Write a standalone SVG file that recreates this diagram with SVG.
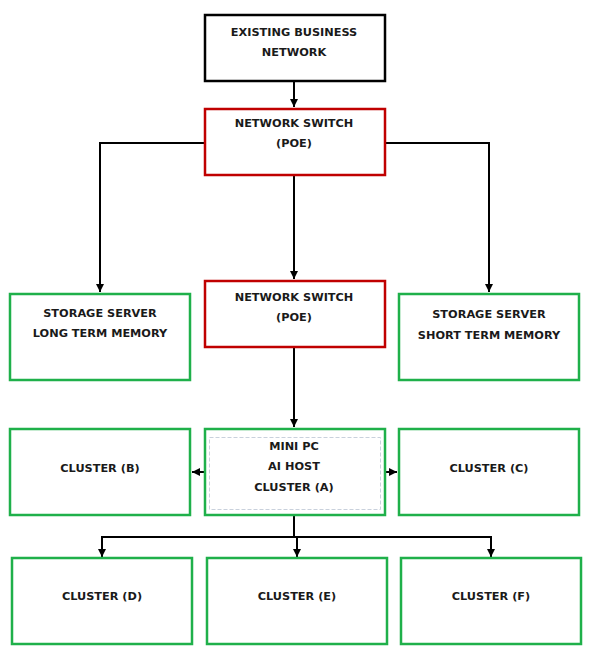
<svg xmlns="http://www.w3.org/2000/svg" width="593" height="667" viewBox="0 0 593 667">
<style>
.bx{fill:#fff;stroke-width:2.5}
.blk{stroke:#000}
.red{stroke:#c00000}
.grn{stroke:#1fb04a}
.t{font-family:"DejaVu Sans",Verdana,sans-serif;font-weight:bold;font-size:11.3px;fill:#1a1a1a;text-anchor:middle}
.c{fill:none;stroke:#000;stroke-width:2}
</style>
<defs>
<marker id="ah" markerUnits="userSpaceOnUse" markerWidth="8" markerHeight="8" refX="8" refY="4" orient="auto">
<path d="M0,0 L8,4 L0,8 z" fill="#000"/>
</marker>
</defs>
<rect width="593" height="667" fill="#fff"/>
<g id="connectors">
<path class="c" d="M294,81 V107" marker-end="url(#ah)"/>
<path class="c" d="M204,143 H100 V292" marker-end="url(#ah)"/>
<path class="c" d="M385,143 H489 V292" marker-end="url(#ah)"/>
<path class="c" d="M294,175 V279" marker-end="url(#ah)"/>
<path class="c" d="M294,348 V427" marker-end="url(#ah)"/>
<path class="c" d="M204,472 H192" marker-end="url(#ah)"/>
<path class="c" d="M385,472 H397" marker-end="url(#ah)"/>
<path class="c" d="M294,516 V537"/>
<path class="c" d="M102,537 H491"/>
<path class="c" d="M102,536 V557" marker-end="url(#ah)"/>
<path class="c" d="M297,536 V557" marker-end="url(#ah)"/>
<path class="c" d="M491,536 V557" marker-end="url(#ah)"/>
</g>
<g id="existing">
<rect class="bx blk" x="205" y="15" width="180" height="66"/>
<text class="t" x="294" y="36">EXISTING BUSINESS</text>
<text class="t" x="294" y="56">NETWORK</text>
</g>
<g id="switch1">
<rect class="bx red" x="205" y="109" width="180" height="66"/>
<text class="t" x="294" y="127">NETWORK SWITCH</text>
<text class="t" x="294" y="147">(POE)</text>
</g>
<g id="storageLong">
<rect class="bx grn" x="10" y="294" width="180" height="86"/>
<text class="t" x="100" y="317">STORAGE SERVER</text>
<text class="t" x="100" y="337">LONG TERM MEMORY</text>
</g>
<g id="switch2">
<rect class="bx red" x="205" y="281" width="180" height="66"/>
<text class="t" x="294" y="301">NETWORK SWITCH</text>
<text class="t" x="294" y="321">(POE)</text>
</g>
<g id="storageShort">
<rect class="bx grn" x="399" y="294" width="180" height="86"/>
<text class="t" x="489" y="318">STORAGE SERVER</text>
<text class="t" x="489" y="339">SHORT TERM MEMORY</text>
</g>
<g id="clusterB">
<rect class="bx grn" x="10" y="429" width="180" height="86"/>
<text class="t" x="100" y="472">CLUSTER (B)</text>
</g>
<g id="miniPC">
<rect class="bx grn" x="205" y="429" width="180" height="86"/>
<rect x="209.5" y="437.5" width="171" height="72" fill="none" stroke="#c9d1dc" stroke-width="1" stroke-dasharray="4,2"/>
<text class="t" x="294" y="450">MINI PC</text>
<text class="t" x="294" y="470">AI HOST</text>
<text class="t" x="294" y="491">CLUSTER (A)</text>
</g>
<g id="clusterC">
<rect class="bx grn" x="399" y="429" width="180" height="86"/>
<text class="t" x="489" y="472">CLUSTER (C)</text>
</g>
<g id="clusterD">
<rect class="bx grn" x="12" y="558" width="180" height="86"/>
<text class="t" x="102" y="600">CLUSTER (D)</text>
</g>
<g id="clusterE">
<rect class="bx grn" x="207" y="558" width="180" height="86"/>
<text class="t" x="297" y="600">CLUSTER (E)</text>
</g>
<g id="clusterF">
<rect class="bx grn" x="401" y="558" width="180" height="86"/>
<text class="t" x="491" y="600">CLUSTER (F)</text>
</g>
</svg>
